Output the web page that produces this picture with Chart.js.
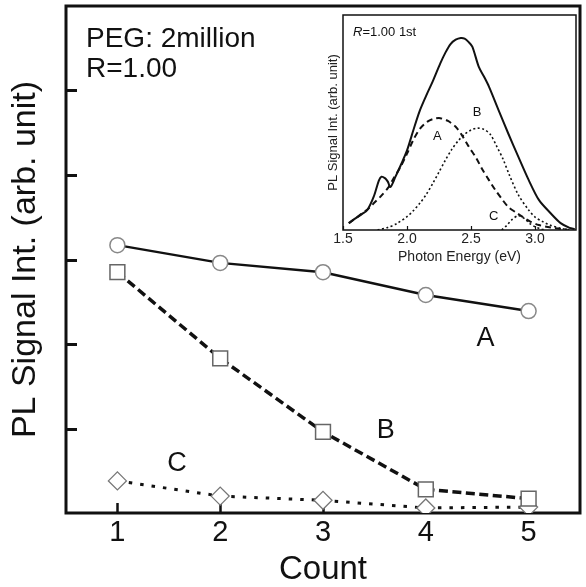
<!DOCTYPE html>
<html><head><meta charset="utf-8">
<script src="https://cdn.jsdelivr.net/npm/chart.js@4.4.0/dist/chart.umd.min.js"></script>
<style>
html,body{margin:0;padding:0;background:#fff;}
#wrap{position:relative;width:586px;height:587px;overflow:hidden;}
#main{position:absolute;left:0;top:0;}
#inset{position:absolute;left:318px;top:8px;}
</style></head><body>
<div id="wrap"><canvas id="main" width="586" height="587"></canvas><canvas id="inset" width="266" height="262"></canvas></div>
<script>
// ---- main chart data ----
const counts = [1, 2, 3, 4, 5];
const seriesA = [3.17, 2.96, 2.85, 2.58, 2.39];
const seriesB = [2.85, 1.83, 0.96, 0.28, 0.17];
const seriesC = [0.38, 0.20, 0.15, 0.06, 0.07];
const xTicks = [1, 2, 3, 4, 5];
const yTicks = [1, 2, 3, 4, 5];

// ---- inset data (photon energy eV, intensity arb.) ----
const insetTicks = [1.5, 2.0, 2.5, 3.0];
const totalE = [1.545,1.60,1.65,1.69,1.74,1.78,1.80,1.83,1.85,1.87,1.91,1.95,2.00,2.05,2.10,2.15,2.20,2.26,2.30,2.34,2.38,2.42,2.45,2.48,2.51,2.56,2.60,2.64,2.715,2.79,2.87,2.95,3.03,3.12,3.20,3.27,3.31];
const totalV = [0.032,0.055,0.075,0.093,0.155,0.23,0.248,0.24,0.225,0.20,0.248,0.30,0.37,0.465,0.555,0.625,0.69,0.775,0.825,0.865,0.885,0.893,0.89,0.875,0.853,0.76,0.715,0.667,0.558,0.45,0.34,0.233,0.14,0.079,0.032,0.01,0.005];
const compAE = [1.545,1.60,1.65,1.70,1.75,1.80,1.85,1.90,1.95,2.00,2.05,2.10,2.16,2.21,2.26,2.32,2.38,2.43,2.48,2.54,2.59,2.64,2.69,2.74,2.79,2.85,2.90,2.96,3.03,3.10,3.16,3.25];
const compAV = [0.032,0.055,0.078,0.10,0.13,0.16,0.195,0.245,0.294,0.355,0.42,0.47,0.504,0.517,0.52,0.507,0.48,0.44,0.39,0.335,0.28,0.232,0.186,0.145,0.108,0.082,0.062,0.04,0.023,0.014,0.008,0.002];
const compBE = [1.77,1.85,1.92,2.00,2.05,2.10,2.15,2.20,2.25,2.30,2.35,2.40,2.45,2.50,2.55,2.60,2.65,2.70,2.75,2.80,2.87,2.95,3.00,3.06,3.12,3.20,3.28];
const compBV = [0.0,0.012,0.03,0.062,0.09,0.124,0.165,0.215,0.27,0.325,0.375,0.415,0.445,0.465,0.474,0.468,0.445,0.39,0.33,0.255,0.163,0.093,0.06,0.039,0.022,0.008,0.0];
const compCE = [2.74,2.78,2.82,2.87,2.92,2.96,3.00,3.05,3.08];
const compCV = [0,0.022,0.048,0.067,0.052,0.03,0.015,0.004,0];

const F = "'Liberation Sans', Arial, Helvetica, sans-serif";
const INK = '#111';
const pts = (xs, ys) => xs.map((x, i) => ({x: x, y: ys[i]}));

const mainDeco = {
  id: 'mainDeco',
  beforeDatasetsDraw(chart) {
    const {ctx, chartArea: a, scales: {x, y}} = chart;
    ctx.save();
    ctx.strokeStyle = INK;
    ctx.lineWidth = 3;
    ctx.strokeRect(a.left, a.top, a.right - a.left, a.bottom - a.top);
    ctx.lineWidth = 3;
    y.ticks.forEach(t => {
      const py = Math.round(y.getPixelForValue(t.value)) + 0.5;
      ctx.beginPath(); ctx.moveTo(a.left, py); ctx.lineTo(a.left + 11, py); ctx.stroke();
    });
    ctx.lineWidth = 2.5;
    x.ticks.forEach(t => {
      const px = Math.round(x.getPixelForValue(t.value)) + 0.5;
      ctx.beginPath(); ctx.moveTo(px, a.bottom); ctx.lineTo(px, a.bottom - 10); ctx.stroke();
    });
    ctx.restore();
  },
  afterDraw(chart) {
    const {ctx, chartArea: a, scales: {x, y}} = chart;
    ctx.save();
    ctx.fillStyle = INK;
    ctx.font = '28px ' + F;
    ctx.textAlign = 'left';
    ctx.textBaseline = 'alphabetic';
    ctx.fillText('PEG: 2million', a.left + 20, 47);
    ctx.fillText('R=1.00', a.left + 20, 77);
    ctx.font = '27px ' + F;
    ctx.textAlign = 'center';
    ctx.textBaseline = 'middle';
    ctx.fillText('A', x.getPixelForValue(4.58), y.getPixelForValue(2.06));
    ctx.fillText('B', x.getPixelForValue(3.61), y.getPixelForValue(0.97));
    ctx.fillText('C', x.getPixelForValue(1.58), y.getPixelForValue(0.58));
    ctx.restore();
  }
};

new Chart(document.getElementById('main'), {
  type: 'line',
  data: {
    datasets: [
      {data: pts(counts, seriesA), borderColor: INK, borderWidth: 2.5, pointStyle: 'circle', pointRadius: 7.5,
       pointBackgroundColor: '#fff', pointBorderColor: '#888', pointBorderWidth: 1.5},
      {data: pts(counts, seriesB), borderColor: INK, borderWidth: 3.5, borderDash: [9, 4.5], pointStyle: 'rect', pointRadius: 10.5,
       pointBackgroundColor: '#fff', pointBorderColor: '#666', pointBorderWidth: 1.5},
      {data: pts(counts, seriesC), borderColor: INK, borderWidth: 3, borderDash: [3.5, 8], pointStyle: 'rectRot', pointRadius: 9,
       pointBackgroundColor: '#fff', pointBorderColor: '#777', pointBorderWidth: 1.3}
    ]
  },
  options: {
    responsive: false, animation: false, devicePixelRatio: 1,
    layout: {autoPadding: false, padding: {top: 6, right: 6, left: 0, bottom: 0}},
    plugins: {legend: {display: false}, tooltip: {enabled: false}},
    scales: {
      x: {type: 'linear', min: 0.5, max: 5.5,
          afterBuildTicks: s => { s.ticks = xTicks.map(v => ({value: v})); },
          afterFit: s => { s.height = 74; },
          grid: {display: false, drawTicks: false}, border: {display: false},
          ticks: {font: {size: 29, family: F}, color: INK, padding: 3},
          title: {display: true, text: 'Count', color: INK, font: {size: 33, family: F}, padding: {top: 0, bottom: -3}}},
      y: {type: 'linear', min: 0, max: 6,
          afterBuildTicks: s => { s.ticks = yTicks.map(v => ({value: v})); },
          afterFit: s => { s.width = 66; },
          grid: {display: false, drawTicks: false}, border: {display: false},
          ticks: {display: false},
          title: {display: true, text: 'PL Signal Int. (arb. unit)', color: INK, font: {size: 34, family: F}, padding: {top: 5, bottom: 0}}}
    }
  },
  plugins: [mainDeco]
});

const insetDeco = {
  id: 'insetDeco',
  beforeDatasetsDraw(chart) {
    const {ctx, chartArea: a, scales: {x}} = chart;
    ctx.save();
    ctx.fillStyle = '#fff';
    ctx.fillRect(a.left, a.top, a.right - a.left, a.bottom - a.top);
    ctx.strokeStyle = INK;
    ctx.lineWidth = 1.5;
    ctx.strokeRect(a.left, a.top, a.right - a.left, a.bottom - a.top);
    ctx.lineWidth = 1.2;
    x.ticks.forEach(t => {
      const px = Math.round(x.getPixelForValue(t.value)) + 0.5;
      ctx.beginPath(); ctx.moveTo(px, a.bottom); ctx.lineTo(px, a.bottom - 4); ctx.stroke();
    });
    ctx.restore();
  },
  afterDraw(chart) {
    const {ctx, chartArea: a, scales: {x, y}} = chart;
    ctx.save();
    ctx.fillStyle = INK;
    ctx.textBaseline = 'alphabetic';
    ctx.textAlign = 'left';
    ctx.font = 'italic 13px ' + F;
    ctx.fillText('R', a.left + 10, 28);
    const rw = ctx.measureText('R').width;
    ctx.font = '13px ' + F;
    ctx.fillText('=1.00 1st', a.left + 10 + rw, 28);
    ctx.textAlign = 'center';
    ctx.textBaseline = 'middle';
    ctx.fillText('A', x.getPixelForValue(2.236), y.getPixelForValue(0.434));
    ctx.fillText('B', x.getPixelForValue(2.548), y.getPixelForValue(0.546));
    ctx.fillText('C', x.getPixelForValue(2.678), y.getPixelForValue(0.065));
    ctx.restore();
  }
};

new Chart(document.getElementById('inset'), {
  type: 'line',
  data: {
    datasets: [
      {data: pts(totalE, totalV), borderColor: INK, borderWidth: 2, pointRadius: 0, tension: 0.3},
      {data: pts(compAE, compAV), borderColor: INK, borderWidth: 2, borderDash: [6, 4], pointRadius: 0, tension: 0.3},
      {data: pts(compBE, compBV), borderColor: INK, borderWidth: 1.6, borderDash: [2, 2.5], pointRadius: 0, tension: 0.3},
      {data: pts(compCE, compCV), borderColor: INK, borderWidth: 1.6, borderDash: [2, 2.5], pointRadius: 0, tension: 0.3}
    ]
  },
  options: {
    responsive: false, animation: false, devicePixelRatio: 1,
    layout: {autoPadding: false, padding: {top: 7, right: 8, left: 0, bottom: 0}},
    plugins: {legend: {display: false}, tooltip: {enabled: false}},
    scales: {
      x: {type: 'linear', min: 1.5, max: 3.32,
          afterBuildTicks: s => { s.ticks = insetTicks.map(v => ({value: v})); },
          afterFit: s => { s.height = 40; },
          grid: {display: false, drawTicks: false}, border: {display: false},
          ticks: {font: {size: 14, family: F}, color: '#222', padding: 1, callback: v => Number(v).toFixed(1)},
          title: {display: true, text: 'Photon Energy (eV)', color: '#222', font: {size: 14, family: F}, padding: {top: 0, bottom: 4}}},
      y: {type: 'linear', min: 0, max: 1,
          afterFit: s => { s.width = 25; },
          grid: {display: false, drawTicks: false}, border: {display: false},
          ticks: {display: false},
          title: {display: true, text: 'PL Signal Int. (arb. unit)', color: '#222', font: {size: 13, family: F}, padding: {top: 8, bottom: 0}}}
    }
  },
  plugins: [insetDeco]
});
</script>
</body></html>
